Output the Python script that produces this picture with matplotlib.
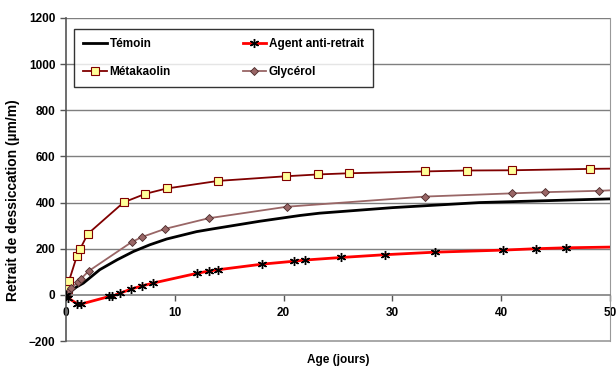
import numpy as np
import matplotlib
matplotlib.use("Agg")
import matplotlib.pyplot as plt

plt.rcParams['font.family'] = ['Liberation Sans', 'DejaVu Sans']
plt.rcParams['font.weight'] = 'bold'

# data (age in days, shrinkage in um/m)
temoin_x = [0, 0.5, 1.0, 1.6, 3.1, 4.7, 6.2, 7.7, 9.25, 12, 13.5, 17.8, 21.5, 23.3, 30, 38, 44, 50]
temoin_y = [0, 18, 35, 51, 109, 152, 188, 217, 242, 274, 286, 319, 344, 354, 378, 400, 408, 416]

agent_x = [0, 0.2, 1.04, 1.38, 3.98, 4.2, 4.96, 5.97, 7.0, 8.0, 12, 13.1, 14, 18, 21, 22,
           25.3, 29.3, 33.9, 40.2, 43.2, 46, 50]
agent_y = [0, -14, -39, -40, -7, -7, 7, 25, 39, 51, 93, 103, 109, 133, 146, 151,
           162, 174, 185, 194, 200, 204, 207]

meta_x = [0, 0.14, 0.28, 1.0, 1.3, 2.0, 5.3, 7.3, 9.25, 14, 20.2, 23.2, 26, 33, 36.9, 41, 48.2, 50]
meta_y = [0, 25, 61, 168, 199, 264, 401, 438, 461, 494, 514, 522, 527, 535, 539, 540, 546, 547]

glyc_x = [0, 0.2, 0.5, 1.07, 1.38, 2.08, 6.04, 7.0, 9.1, 13.1, 20.3, 33, 41, 44, 49, 50]
glyc_y = [0, 13, 30, 54, 70, 103, 229, 251, 286, 332, 382, 426, 440, 445, 451, 453]

fig = plt.figure(figsize=(6.16, 3.67), dpi=100)
ax = fig.add_axes([66/616, 1-341/367, (610-66)/616, (341-18)/367])

# gridlines
for yv in range(200, 1201, 200):
    ax.axhline(yv, color='#7f7f7f', lw=1.0, zorder=0)

l_tem, = ax.plot(temoin_x, temoin_y, color='black', lw=2.0, zorder=3)
l_age, = ax.plot(agent_x, agent_y, color='#ff0000', lw=2.0, marker=(6, 2, 0), ms=6.5,
                 mec='black', mew=1.0, markevery=slice(0, len(agent_x)-1), zorder=4)
l_met, = ax.plot(meta_x, meta_y, color='#800000', lw=1.3, marker='s', ms=5.5,
                 mfc='#ffff99', mec='#800000', mew=0.8, markevery=slice(0, len(meta_x)-1),
                 zorder=3)
l_gly, = ax.plot(glyc_x, glyc_y, color='#996666', lw=1.3, marker='D', ms=4.5,
                 mfc='#996666', mec='#4a2a2a', mew=0.6, markevery=slice(0, len(glyc_x)-1),
                 zorder=3)

ax.set_xlim(0, 50)
ax.set_ylim(-200, 1200)
ax.set_xticks(range(0, 51, 10))
ax.set_yticks(range(-200, 1201, 200))

ax.spines['bottom'].set_position(('data', 0))
ax.spines['bottom'].set_color('#7f7f7f')
ax.spines['bottom'].set_linewidth(1.2)
ax.spines['top'].set_visible(False)
ax.spines['right'].set_color('#999999')
ax.spines['left'].set_color('#555555')
ax.spines['left'].set_linewidth(1.2)
ax.axhline(-200, color='#999999', lw=1.2, clip_on=False)

ax.tick_params(axis='both', labelsize=8.5, color='#555555', length=4, width=1)
ax.tick_params(axis='x', pad=5)
for lab in ax.get_xticklabels() + ax.get_yticklabels():
    lab.set_fontweight('bold')

ax.set_ylabel('Retrait de dessiccation (µm/m)', fontsize=10, fontweight='bold')
ax.yaxis.set_label_coords((20-66)/544, (341-200)/323)
fig.text(338/616, 1-360/367, 'Age (jours)', fontsize=8.5, fontweight='bold',
         ha='center', va='center')

# column-major order so rows read Témoin / Agent, Métakaolin / Glycérol
leg = ax.legend([l_tem, l_met, l_age, l_gly],
                ['Témoin', 'Métakaolin', 'Agent anti-retrait', 'Glycérol'],
                loc='upper left', bbox_to_anchor=(0.0147, 0.966), ncol=2,
                frameon=True, fancybox=False, edgecolor='black',
                borderaxespad=0, handlelength=2.0, handletextpad=0.2,
                labelspacing=1.3, borderpad=0.8, columnspacing=6.1,
                prop={'weight': 'bold', 'size': 8.5})
leg.get_frame().set_linewidth(1.0)

fig.savefig('out.png', dpi=100)
